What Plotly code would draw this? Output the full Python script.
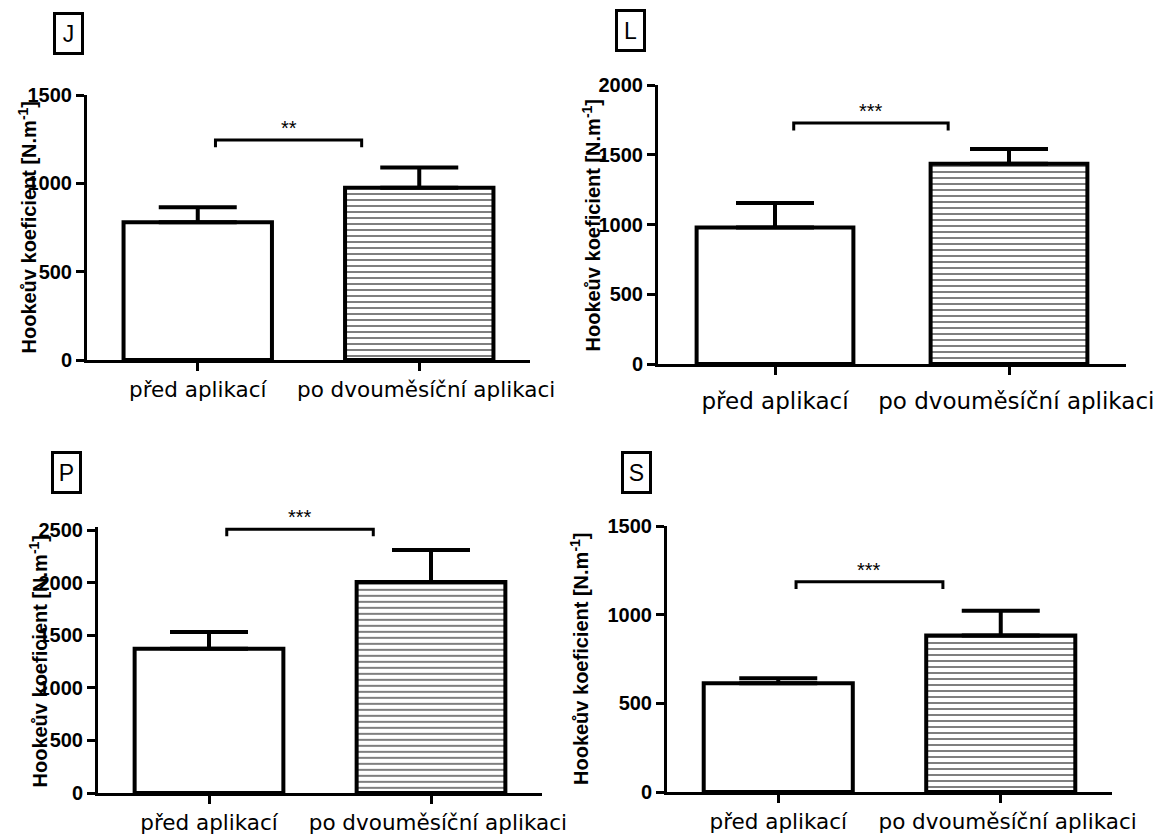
import plotly.graph_objects as go

# Figure canvas (pixels)
W, H = 1163, 834

# Categories shared by every panel
groups = ["před aplikací", "po dvouměsíční aplikaci"]

# Hooke coefficient per region: mean and SEM (upper error only)
J_mean = [780, 975]
J_sem = [85, 115]
L_mean = [978, 1435]
L_sem = [177, 107]
P_mean = [1370, 2005]
P_sem = [160, 305]
S_mean = [613, 882]
S_sem = [28, 140]

# Significance brackets: level and marker
J_sig = (1245, "**")
L_sig = (1728, "***")
P_sig = (2507, "***")
S_sig = (1185, "***")

# Axis maxima (P gets a little headroom so its bracket is not clipped)
J_ymax, L_ymax, P_ymax, S_ymax = 1500, 2000, 2500, 1500
J_ytop, L_ytop, P_ytop, S_ytop = 1500, 2000, 2530, 1500

ytitle = "Hookeův koeficient [N.m<sup>-1</sup>]"
NB = "\u00a0"
# category labels, the second one nudged a little to the right
ticklabels = [groups[0], NB * 2 + groups[1]]


def xdom(a, b):
    return [a / W, b / W]


def ydom(top, bottom):
    return [1 - bottom / H, 1 - top / H]


panels = [
    # letter, means, sems, sig, ymax, ytop, x-domain px, y-domain px (top at ymax),
    # letter pos, title x, x-label standoff, x-label size
    ("J", J_mean, J_sem, J_sig, J_ymax, J_ytop, (87, 530), (95, 360), (68, 34), 27, 0, 21.5),
    ("L", L_mean, L_sem, L_sig, L_ymax, L_ytop, (658, 1126), (85, 364), (630, 31), 591, 6, 23),
    ("P", P_mean, P_sem, P_sig, P_ymax, P_ytop, (98, 542), (530, 793), (66, 472), 38, 0, 21.5),
    ("S", S_mean, S_sem, S_sig, S_ymax, S_ytop, (667, 1112), (526, 792), (636, 472), 579, 0, 21.5),
]

fig = go.Figure()
annotations = []
layout_axes = {}

for i, (letter, means, sems, sig, ymax, ytop, xd, yd, lpos, tx, stand, xfs) in enumerate(panels):
    n = i + 1
    xa = "x" if n == 1 else f"x{n}"
    ya = "y" if n == 1 else f"y{n}"
    xkey = "xaxis" if n == 1 else f"xaxis{n}"
    ykey = "yaxis" if n == 1 else f"yaxis{n}"

    # pixel span of the y axis, stretched if the range runs past the top tick
    top_px, bot_px = yd
    scale = (bot_px - top_px) / ymax
    top_px = bot_px - ytop * scale

    fig.add_trace(go.Bar(
        x=[0, 1], y=means, width=0.67,
        marker=dict(
            color="white",
            line=dict(color="black", width=4),
            pattern=dict(shape=["", "-"], fgcolor="black", bgcolor="white",
                         size=6, solidity=0.34),
        ),
        error_y=dict(type="data", array=sems, arrayminus=[0, 0], symmetric=False,
                     color="black", thickness=4, width=39),
        xaxis=xa, yaxis=ya, showlegend=False, hoverinfo="skip",
    ))

    level, stars = sig
    drop = 0.027 * ymax
    fig.add_trace(go.Scatter(
        x=[0.08, 0.08, 0.74, 0.74], y=[level - drop, level, level, level - drop],
        mode="lines", line=dict(color="black", width=3),
        xaxis=xa, yaxis=ya, showlegend=False, hoverinfo="skip", cliponaxis=False,
    ))
    annotations.append(dict(
        x=0.41, y=level, xref=xa, yref=ya, text=stars, showarrow=False,
        yanchor="bottom", yshift=-1,
        font=dict(family="Liberation Sans", size=20, color="black"),
    ))

    layout_axes[xkey] = dict(
        domain=xdom(*xd), anchor=ya, range=[-0.5, 1.5], automargin=False,
        tickmode="array", tickvals=[0, 1], ticktext=ticklabels,
        showline=True, linecolor="black", linewidth=3,
        ticks="outside", ticklen=8, tickwidth=3, tickcolor="black",
        ticklabelstandoff=stand,
        showgrid=False, zeroline=False, fixedrange=True,
        tickfont=dict(family="DejaVu Sans", size=xfs, color="black"),
    )
    layout_axes[ykey] = dict(
        domain=ydom(top_px, bot_px), anchor=xa, range=[0, ytop], automargin=False,
        tickmode="linear", tick0=0, dtick=500,
        showline=True, linecolor="black", linewidth=3,
        ticks="outside", ticklen=8, tickwidth=3, tickcolor="black",
        showgrid=False, zeroline=False, fixedrange=True,
        tickfont=dict(family="Liberation Sans", size=20, color="black", weight="bold"),
    )

    # boxed panel letter
    annotations.append(dict(
        x=lpos[0] / W, y=1 - lpos[1] / H, xref="paper", yref="paper",
        text=letter, showarrow=False, xanchor="center", yanchor="middle",
        width=23, height=35, borderwidth=3, bordercolor="black", borderpad=1,
        font=dict(family="Liberation Sans", size=23, color="black"),
    ))
    # y-axis title
    annotations.append(dict(
        x=tx / W, y=1 - (yd[0] + yd[1]) / 2 / H, xref="paper", yref="paper",
        text=ytitle, showarrow=False, textangle=-90,
        xanchor="center", yanchor="middle",
        font=dict(family="Liberation Sans", size=20, color="black", weight="bold"),
    ))

fig.update_layout(
    width=W, height=H, autosize=False,
    margin=dict(l=0, r=0, t=0, b=0, autoexpand=False),
    paper_bgcolor="white", plot_bgcolor="white",
    annotations=annotations,
    **layout_axes,
)

fig.write_html("out.html")
